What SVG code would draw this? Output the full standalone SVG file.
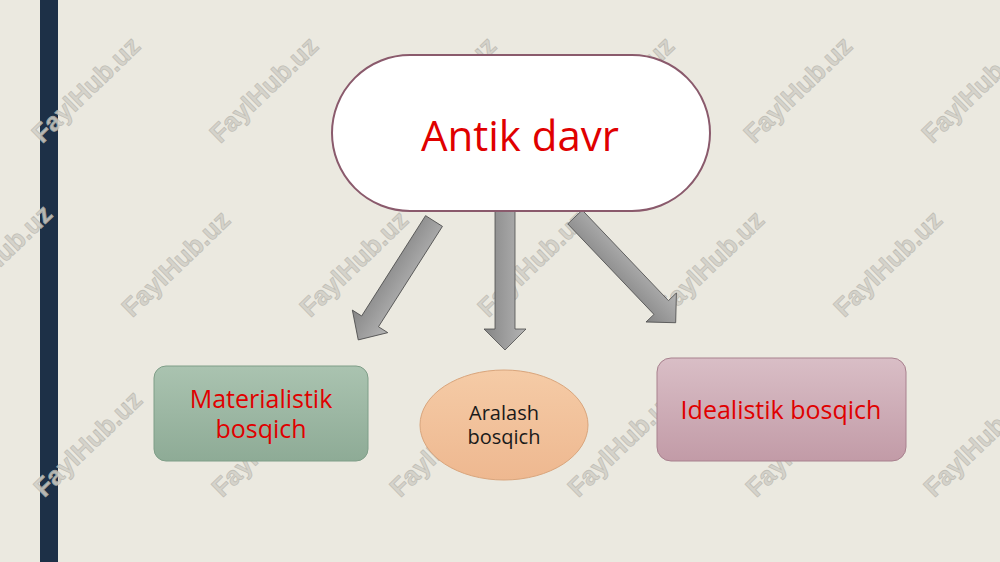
<svg xmlns="http://www.w3.org/2000/svg" width="1000" height="562" viewBox="0 0 1000 562">
<style>
.wm{font-family:"Liberation Sans",Arial,sans-serif;font-weight:bold;font-size:26px;fill:#d2d0c8;stroke:#bab8b0;stroke-width:0.8;text-anchor:middle;opacity:0.85}
.red{font-family:"Open Sans","Noto Sans",sans-serif;fill:#e00000;text-anchor:middle}
.blk{font-family:"Open Sans","Noto Sans",sans-serif;fill:#1a1a1a;text-anchor:middle}
.arrow{fill:url(#ga);stroke:#4d4d4d;stroke-width:0.8}
</style>
<defs>
<linearGradient id="ga" x1="0" y1="0" x2="0" y2="1">
<stop offset="0" stop-color="#b4b4b4"/><stop offset="1" stop-color="#858585"/>
</linearGradient>
<linearGradient id="gg" x1="0" y1="0" x2="0" y2="1">
<stop offset="0" stop-color="#aac3b0"/><stop offset="1" stop-color="#8eab96"/>
</linearGradient>
<linearGradient id="gp" x1="0" y1="0" x2="0" y2="1">
<stop offset="0" stop-color="#f5cba6"/><stop offset="1" stop-color="#eeb890"/>
</linearGradient>
<linearGradient id="gm" x1="0" y1="0" x2="0" y2="1">
<stop offset="0" stop-color="#d9bec6"/><stop offset="1" stop-color="#c29ba7"/>
</linearGradient>
</defs>
<rect x="0" y="0" width="1000" height="562" fill="#ebe9e0"/>
<rect x="40" y="0" width="18" height="562" fill="#1d3047"/>

<g id="watermarks">
<text class="wm" transform="translate(92,96) rotate(-44)">FaylHub.uz</text>
<text class="wm" transform="translate(270,96) rotate(-44)">FaylHub.uz</text>
<text class="wm" transform="translate(448,96) rotate(-44)">FaylHub.uz</text>
<text class="wm" transform="translate(626,96) rotate(-44)">FaylHub.uz</text>
<text class="wm" transform="translate(804,96) rotate(-44)">FaylHub.uz</text>
<text class="wm" transform="translate(982,96) rotate(-44)">FaylHub.uz</text>
<text class="wm" transform="translate(4,264) rotate(-44)">FaylHub.uz</text>
<text class="wm" transform="translate(182,270) rotate(-44)">FaylHub.uz</text>
<text class="wm" transform="translate(360,270) rotate(-44)">FaylHub.uz</text>
<text class="wm" transform="translate(538,270) rotate(-44)">FaylHub.uz</text>
<text class="wm" transform="translate(716,270) rotate(-44)">FaylHub.uz</text>
<text class="wm" transform="translate(894,270) rotate(-44)">FaylHub.uz</text>
<text class="wm" transform="translate(94,450) rotate(-44)">FaylHub.uz</text>
<text class="wm" transform="translate(272,450) rotate(-44)">FaylHub.uz</text>
<text class="wm" transform="translate(450,450) rotate(-44)">FaylHub.uz</text>
<text class="wm" transform="translate(628,450) rotate(-44)">FaylHub.uz</text>
<text class="wm" transform="translate(806,450) rotate(-44)">FaylHub.uz</text>
<text class="wm" transform="translate(984,450) rotate(-44)">FaylHub.uz</text>
</g>

<g id="connectors">
<polygon class="arrow" transform="translate(434,221) rotate(122.5)" points="0,-10 119,-10 119,-21 141,0 119,21 119,10 0,10"/>
<polygon class="arrow" transform="translate(505,210) rotate(90)" points="0,-10 119,-10 119,-21 140,0 119,21 119,10 0,10"/>
<polygon class="arrow" transform="translate(575,217) rotate(46.4)" points="0,-10 125,-10 125,-21 146,0 125,21 125,10 0,10"/>
</g>

<g id="node-antik">
<rect x="332" y="55" width="378" height="156" rx="78" ry="78" fill="#ffffff" stroke="#8a5a6c" stroke-width="2"/>
<text class="red" x="520" y="151" font-size="42">Antik davr</text>
</g>

<g id="node-materialistik">
<rect x="154" y="366" width="214" height="95" rx="12" ry="12" fill="url(#gg)" stroke="#7f9e88" stroke-width="1"/>
<text class="red" x="261" y="408" font-size="25">Materialistik</text>
<text class="red" x="261" y="438" font-size="25">bosqich</text>
</g>

<g id="node-aralash">
<ellipse cx="504" cy="425" rx="84" ry="55" fill="url(#gp)" stroke="#d9a57c" stroke-width="1"/>
<text class="blk" x="504" y="420" font-size="20">Aralash</text>
<text class="blk" x="504" y="444" font-size="20">bosqich</text>
</g>

<g id="node-idealistik">
<rect x="657" y="358" width="249" height="103" rx="14" ry="14" fill="url(#gm)" stroke="#a8818e" stroke-width="1"/>
<text class="red" x="781" y="419" font-size="25">Idealistik bosqich</text>
</g>
</svg>
